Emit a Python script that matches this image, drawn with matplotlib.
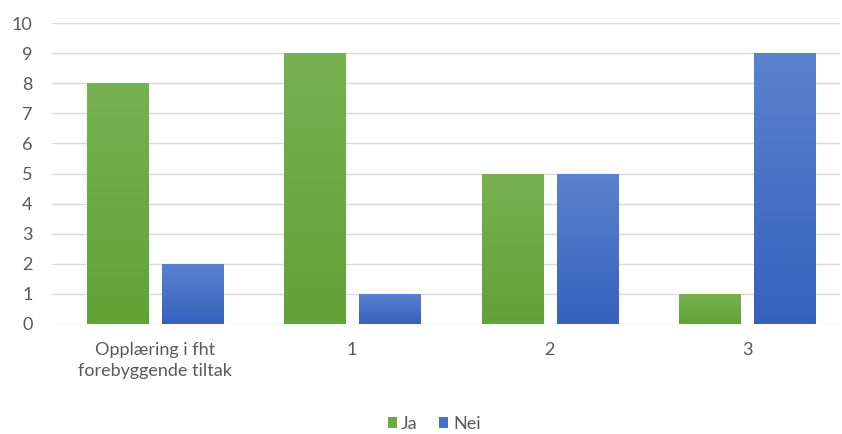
import numpy as np
import matplotlib.pyplot as plt
from matplotlib.colors import LinearSegmentedColormap
from matplotlib.patches import Patch

categories = ["Opplæring i fht\nforebyggende tiltak", "1", "2", "3"]
ja = [8, 9, 5, 1]
nei = [2, 1, 5, 9]

plt.rcParams["font.family"] = ["Lato", "DejaVu Sans"]

fig = plt.figure(figsize=(8.42, 4.34), dpi=100)
ax = fig.add_axes([52 / 842, 110 / 434, 788 / 842, 301 / 434])

x = np.arange(len(categories))
width = 0.31
offset = 0.19

# soft vertical fade, darker at the base
green_cmap = LinearSegmentedColormap.from_list("g", ["#62a237", "#77b151"])
blue_cmap = LinearSegmentedColormap.from_list("b", ["#3462bd", "#5a82cd"])


def gradient_bars(xs, vals, cmap):
    bars = ax.bar(xs, vals, width, color="none", edgecolor="none", zorder=2)
    grad = np.linspace(0, 1, 256).reshape(-1, 1)
    for b in bars:
        x0, y0 = b.get_x(), b.get_y()
        w, h = b.get_width(), b.get_height()
        im = ax.imshow(grad, cmap=cmap, origin="lower", aspect="auto",
                       extent=[x0, x0 + w, y0, y0 + h], zorder=2)
        im.set_clip_path(b)
    return bars


gradient_bars(x - offset, ja, green_cmap)
gradient_bars(x + offset, nei, blue_cmap)

ax.set_xlim(-0.52, 3.47)
ax.set_ylim(0, 10)
ax.set_yticks(range(0, 11))
ax.yaxis.grid(True, color="#d9d9d9", linewidth=1)
ax.set_axisbelow(True)
for s in ax.spines.values():
    s.set_visible(False)
ax.tick_params(axis="both", length=0, labelsize=13, labelcolor="#595959")
ax.tick_params(axis="y", pad=14)
ax.tick_params(axis="x", pad=13)
ax.set_xticks(x)
ax.set_xticklabels(categories, linespacing=1.35)

handles = [Patch(facecolor="#6aaa45", label="Ja"),
           Patch(facecolor="#4472c4", label="Nei")]
fig.legend(handles=handles, loc="center", bbox_to_anchor=(434 / 842, 1 - 424 / 434),
           ncol=2, frameon=False, fontsize=13, handlelength=0.5, handleheight=0.5,
           handletextpad=0.25, columnspacing=1.2, labelcolor="#595959")

fig.savefig("out.png", dpi=100)
